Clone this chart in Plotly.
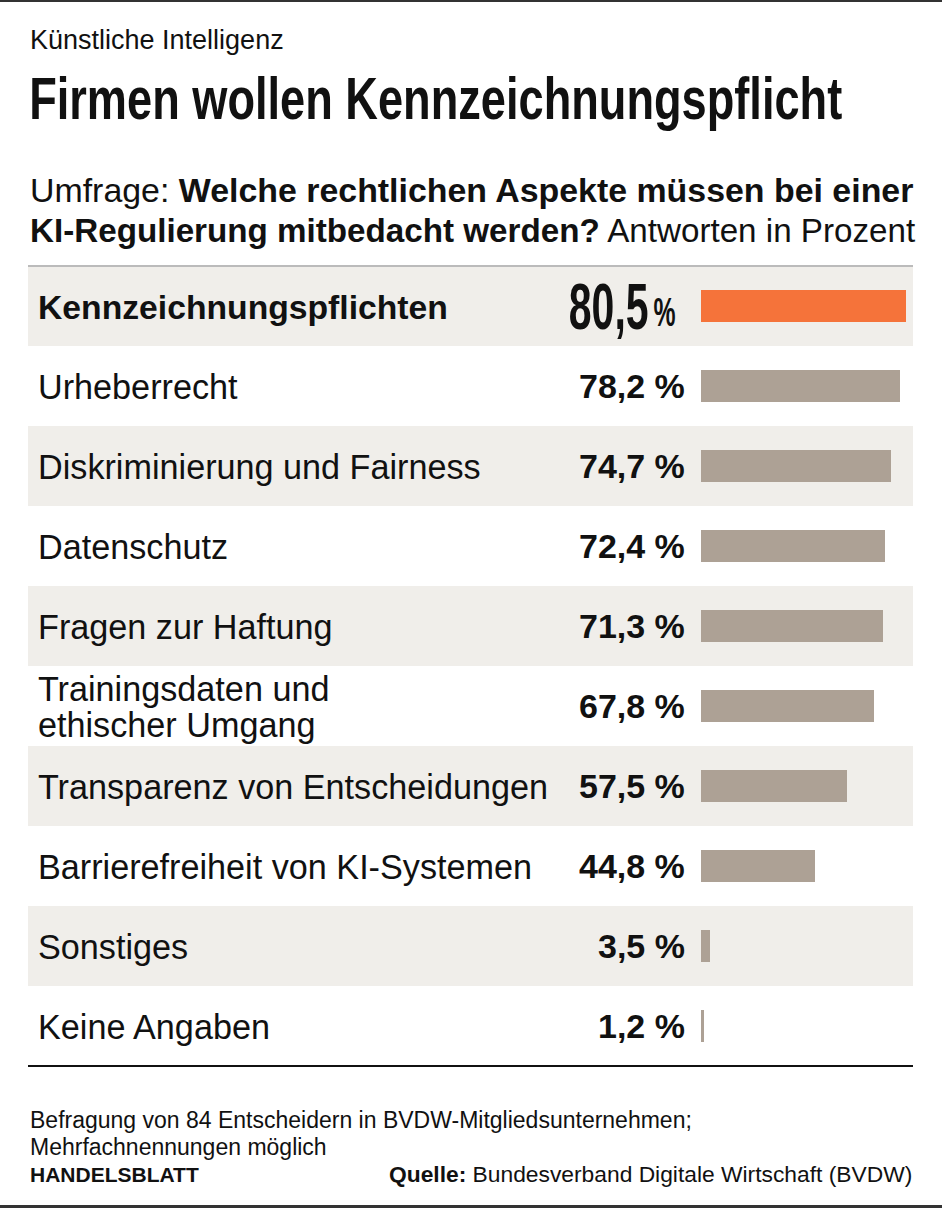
import plotly.graph_objects as go

W, H = 942, 1208

categories = [
    "Kennzeichnungspflichten",
    "Urheberrecht",
    "Diskriminierung und Fairness",
    "Datenschutz",
    "Fragen zur Haftung",
    "Trainingsdaten und<br>ethischer Umgang",
    "Transparenz von Entscheidungen",
    "Barrierefreiheit von KI-Systemen",
    "Sonstiges",
    "Keine Angaben",
]
values = [80.5, 78.2, 74.7, 72.4, 71.3, 67.8, 57.5, 44.8, 3.5, 1.2]
value_labels = ["80,5", "78,2 %", "74,7 %", "72,4 %", "71,3 %", "67,8 %", "57,5 %", "44,8 %", "3,5 %", "1,2 %"]

ORANGE = "#f5733a"
GRAY = "#ada195"
SHADE = "#f0eeea"
BODY = "'Liberation Sans', Arial, sans-serif"
COND = "'Liberation Sans', Arial, sans-serif"

def px(x):
    return x / W

def py(y):
    return 1 - y / H

n = len(categories)
idx = list(range(n))
colors = [ORANGE] + [GRAY] * (n - 1)

fig = go.Figure()
fig.add_trace(go.Bar(
    x=values, y=idx, orientation="h",
    marker=dict(color=colors, line=dict(width=0)),
    width=0.41, hoverinfo="skip", showlegend=False,
))

row_top, row_bot = 266, 1066
bar_x0, bar_x1 = 701, 913
fig.update_xaxes(domain=[px(bar_x0), px(bar_x1)], range=[0, (bar_x1 - bar_x0) / 2.547],
                 visible=False, fixedrange=True)
fig.update_yaxes(domain=[py(row_bot), py(row_top)], range=[n - 0.5, -0.5],
                 visible=False, fixedrange=True)

shapes = []
for i in idx:
    if i % 2 == 0:
        shapes.append(dict(type="rect", xref="paper", yref="y", x0=px(28), x1=px(913),
                           y0=i - 0.5, y1=i + 0.5, fillcolor=SHADE, line=dict(width=0),
                           layer="below"))
shapes.append(dict(type="line", xref="paper", yref="paper", x0=0, x1=1, y0=py(1), y1=py(1),
                   line=dict(color="#333333", width=2)))
shapes.append(dict(type="line", xref="paper", yref="paper", x0=0, x1=1, y0=py(1206.5), y1=py(1206.5),
                   line=dict(color="#333333", width=3)))
shapes.append(dict(type="line", xref="paper", yref="paper", x0=px(28), x1=px(913), y0=py(266), y1=py(266),
                   line=dict(color="#bbbbbb", width=2)))
shapes.append(dict(type="line", xref="paper", yref="paper", x0=px(28), x1=px(913), y0=py(1066), y1=py(1066),
                   line=dict(color="#111111", width=2)))

ann = []
for i in idx:
    bold = i == 0
    lines = categories[i].split("<br>")
    k = len(lines)
    for j, line in enumerate(lines):
        txt = f"<b>{line}</b>" if bold else line
        ann.append(dict(xref="paper", yref="y", x=px(36), y=i, yshift=(k - 1) * 18 - j * 36 - 1,
                        text=txt, showarrow=False,
                        xanchor="left", yanchor="middle", align="left",
                        font=dict(family=BODY, size=34.2 if not bold else 33.7, color="#111111")))
    if i == 0:
        ann.append(dict(xref="paper", yref="y", x=px(651), y=i, yshift=-1,
                        text="<b>" + value_labels[i] + "</b>", showarrow=False,
                        xanchor="right", yanchor="middle",
                        font=dict(family=COND, size=64, color="#111111")))
        ann.append(dict(xref="paper", yref="y", x=px(678), y=i, yshift=-6,
                        text="<b>%</b>", showarrow=False,
                        xanchor="right", yanchor="middle",
                        font=dict(family=COND, size=40, color="#111111")))
    else:
        ann.append(dict(xref="paper", yref="y", x=px(687), y=i, text=f"<b>{value_labels[i]}</b>",
                        showarrow=False, xanchor="right", yanchor="middle",
                        font=dict(family=BODY, size=34, color="#111111")))

def text(x, y, t, size, family=BODY, anchor="left", color="#111111"):
    ann.append(dict(xref="paper", yref="paper", x=px(x), y=py(y), text=t, showarrow=False,
                    xanchor=anchor, yanchor="middle", font=dict(family=family, size=size, color=color)))

text(28, 40, "Künstliche Intelligenz", 27)
text(27, 98, "<b>Firmen wollen Kennzeichnungspflicht</b>", 60, family=COND)
text(28, 190, "Umfrage: <b>Welche rechtlichen Aspekte müssen bei einer</b>", 33.9)
text(28, 230, "<b>KI-Regulierung mitbedacht werden?</b> Antworten in Prozent", 33.2)
text(28, 1120, "Befragung von 84 Entscheidern in BVDW-Mitgliedsunternehmen;", 23)
text(28, 1147, "Mehrfachnennungen möglich", 23)
text(28, 1174, "<b>HANDELSBLATT</b>", 21)
text(914, 1174, "<b>Quelle:</b> Bundesverband Digitale Wirtschaft (BVDW)", 22.8, anchor="right")

fig.update_layout(
    width=W, height=H, margin=dict(l=0, r=0, t=0, b=0),
    paper_bgcolor="white", plot_bgcolor="rgba(0,0,0,0)",
    shapes=shapes, annotations=ann, bargap=0,
)

post = """
document.body.style.margin = '0';
var gd = document.getElementById('{plot_id}');
var squeeze = [['Firmen wollen', 0.753, 'left center'], ['80,5', 0.64, 'right center'], ['%', 0.62, 'right center']];
gd.querySelectorAll('text.annotation-text').forEach(function (t) {
  var s = t.textContent;
  squeeze.forEach(function (q) {
    if (s === q[0] || (q[0].length > 4 && s.indexOf(q[0]) === 0)) {
      t.style.transformBox = 'fill-box';
      t.style.transformOrigin = q[2];
      t.style.transform = 'scaleX(' + q[1] + ')';
    }
  });
});
"""

fig.write_html("out.html", post_script=post, config={"displayModeBar": False})
